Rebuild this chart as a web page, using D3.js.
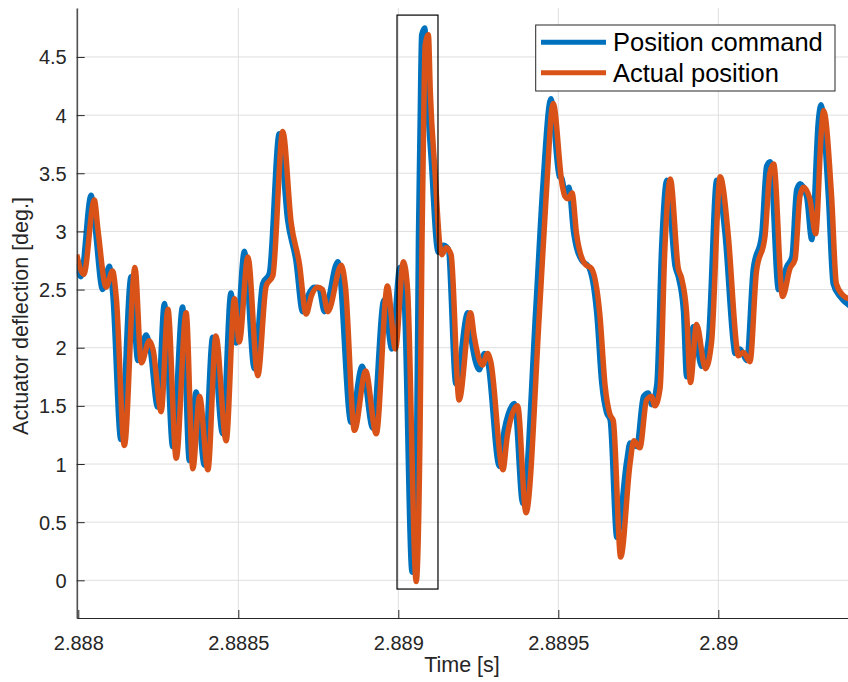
<!DOCTYPE html>
<html>
<head>
<meta charset="utf-8">
<script src="https://cdn.jsdelivr.net/npm/d3@7"></script>
<style>
  body { margin: 0; background: #fff; }
  text { font-family: "Liberation Sans", Arial, sans-serif; }
</style>
</head>
<body>
<script>
const w = 848;
const h = 682;

// time in microseconds after t0, values in degrees
const t0 = 2.888;
const cmdUs = [-5, 8, 40, 52, 76, 97, 108, 133, 165, 186, 212, 224, 248, 269, 295, 326, 347, 368, 394, 420, 451, 477, 493, 519, 550, 576, 597, 628, 654, 680, 701, 718, 737, 752, 769, 811, 852, 887, 920, 955, 980, 1005, 1018, 1043, 1058, 1063, 1068, 1073, 1083, 1089, 1104, 1120, 1125, 1141, 1156, 1180, 1217, 1227, 1253, 1269, 1279, 1316, 1331, 1363, 1389, 1430, 1451, 1477, 1503, 1511, 1521, 1533, 1547, 1573, 1594, 1620, 1636, 1651, 1662, 1683, 1714, 1724, 1745, 1766, 1781, 1792, 1808, 1823, 1839, 1865, 1875, 1891, 1901, 1922, 1948, 1969, 1995, 2021, 2047, 2052, 2068, 2089, 2109, 2136, 2151, 2162, 2188, 2214, 2230, 2245, 2256, 2276, 2292, 2313, 2321, 2344, 2359, 2380, 2410];
const cmdVal = [2.72, 2.61, 3.31, 3.05, 2.50, 2.70, 2.45, 1.21, 2.61, 1.89, 2.11, 2.00, 1.49, 2.38, 1.15, 2.35, 1.03, 1.62, 0.99, 2.09, 1.26, 2.47, 2.04, 2.83, 1.82, 2.55, 2.64, 3.84, 3.10, 2.75, 2.31, 2.45, 2.52, 2.51, 2.31, 2.74, 1.36, 1.84, 1.31, 2.41, 1.99, 2.69, 2.45, 0.07, 1.38, 2.94, 3.88, 4.69, 4.75, 4.25, 3.57, 2.88, 2.82, 2.88, 2.85, 1.69, 2.30, 2.09, 1.81, 1.95, 1.89, 0.98, 1.29, 1.52, 0.66, 2.35, 3.36, 4.14, 3.47, 3.46, 3.33, 3.38, 3.01, 2.75, 2.70, 2.30, 1.69, 1.44, 1.38, 0.37, 1.03, 1.18, 1.15, 1.58, 1.61, 1.51, 1.69, 2.87, 3.44, 2.70, 2.61, 2.32, 1.75, 2.18, 1.84, 2.07, 3.44, 2.98, 2.04, 1.95, 1.99, 1.89, 2.67, 2.98, 3.56, 3.60, 2.50, 2.70, 2.78, 3.36, 3.41, 3.30, 2.93, 3.96, 4.09, 3.30, 2.55, 2.44, 2.36];

const actUs = [-5, 17, 50, 62, 87, 107, 119, 144, 177, 197, 222, 234, 259, 280, 306, 337, 358, 379, 405, 430, 462, 488, 503, 530, 561, 587, 608, 639, 665, 691, 712, 729, 748, 763, 780, 822, 835, 863, 898, 931, 966, 991, 1016, 1029, 1056, 1068, 1074, 1079, 1084, 1094, 1100, 1115, 1131, 1136, 1150, 1165, 1190, 1226, 1237, 1263, 1279, 1289, 1327, 1341, 1373, 1399, 1441, 1462, 1484, 1512, 1521, 1531, 1543, 1557, 1583, 1604, 1630, 1646, 1661, 1672, 1695, 1724, 1736, 1755, 1776, 1791, 1802, 1818, 1833, 1850, 1875, 1885, 1901, 1913, 1932, 1960, 1979, 2006, 2031, 2057, 2062, 2078, 2099, 2119, 2146, 2161, 2173, 2201, 2224, 2240, 2255, 2266, 2286, 2304, 2323, 2329, 2354, 2369, 2390, 2410];
const actVal = [2.80, 2.63, 3.27, 3.00, 2.52, 2.66, 2.42, 1.16, 2.69, 1.87, 2.06, 1.98, 1.45, 2.33, 1.05, 2.30, 0.96, 1.58, 0.95, 2.10, 1.20, 2.42, 2.05, 2.78, 1.76, 2.53, 2.62, 3.86, 3.08, 2.72, 2.29, 2.45, 2.52, 2.50, 2.31, 2.71, 2.52, 1.29, 1.80, 1.26, 2.53, 1.99, 2.74, 2.50, -0.01, 1.30, 2.90, 3.90, 4.60, 4.69, 4.20, 3.50, 2.85, 2.80, 2.86, 2.80, 1.55, 2.30, 2.10, 1.85, 1.95, 1.88, 0.95, 1.25, 1.50, 0.58, 2.30, 3.30, 4.10, 3.40, 3.30, 3.28, 3.33, 2.98, 2.72, 2.68, 2.28, 1.68, 1.43, 1.37, 0.20, 1.00, 1.20, 1.14, 1.55, 1.58, 1.50, 1.65, 2.85, 3.45, 2.68, 2.60, 2.30, 1.70, 2.20, 1.82, 2.05, 3.47, 2.97, 2.02, 1.93, 1.96, 1.88, 2.65, 2.96, 3.50, 3.58, 2.44, 2.68, 2.76, 3.30, 3.38, 3.28, 2.98, 3.90, 4.04, 3.30, 2.55, 2.45, 2.42];

const xTicks = [2.888, 2.8885, 2.889, 2.8895, 2.89];
const yTicks = [0, 0.5, 1, 1.5, 2, 2.5, 3, 3.5, 4, 4.5];
const seriesNames = ["Position command", "Actual position"];
const seriesColors = ["#0072BD", "#D95319"];

// highlighted window around the step
const boxT = [2.888996, 2.889124];
const boxV = [-0.075, 4.86];

const plotLeft = 76.7, plotTop = 8, plotBottom = 618;

const xScale = d3.scaleLinear()
  .domain([2.887995, 2.89041])
  .range([plotLeft, plotLeft + 772.8]);

const yScale = d3.scaleLinear()
  .domain([-0.324, 4.921])
  .range([plotBottom, plotTop]);

const svg = d3.select("body")
  .append("svg")
  .attr("width", w)
  .attr("height", h);

svg.append("defs").append("clipPath")
  .attr("id", "plotClip")
  .append("rect")
  .attr("x", plotLeft)
  .attr("y", plotTop)
  .attr("width", w - plotLeft)
  .attr("height", plotBottom - plotTop);

// GRID
svg.append("g")
  .selectAll("line")
  .data(xTicks)
  .join("line")
  .attr("x1", d => xScale(d))
  .attr("x2", d => xScale(d))
  .attr("y1", plotTop)
  .attr("y2", plotBottom)
  .attr("stroke", "#dfdfdf")
  .attr("stroke-width", 1);

svg.append("g")
  .selectAll("line")
  .data(yTicks)
  .join("line")
  .attr("x1", plotLeft)
  .attr("x2", w)
  .attr("y1", d => yScale(d))
  .attr("y2", d => yScale(d))
  .attr("stroke", "#dfdfdf")
  .attr("stroke-width", 1);

// LINES
const cmdData = cmdUs.map((u, i) => ({ t: t0 + u * 1e-6, v: cmdVal[i] }));
const actData = actUs.map((u, i) => ({ t: t0 + u * 1e-6, v: actVal[i] }));

const line = d3.line()
  .x(d => xScale(d.t))
  .y(d => yScale(d.v))
  .curve(d3.curveMonotoneX);

const plot = svg.append("g").attr("clip-path", "url(#plotClip)");

[cmdData, actData].forEach((data, i) => {
  plot.append("path")
    .datum(data)
    .attr("fill", "none")
    .attr("stroke", seriesColors[i])
    .attr("stroke-width", 5.5)
    .attr("stroke-linejoin", "round")
    .attr("d", line);
});

// BOX
svg.append("rect")
  .attr("x", xScale(boxT[0]))
  .attr("y", yScale(boxV[1]))
  .attr("width", xScale(boxT[1]) - xScale(boxT[0]))
  .attr("height", yScale(boxV[0]) - yScale(boxV[1]))
  .attr("fill", "none")
  .attr("stroke", "#000")
  .attr("stroke-width", 1.2);

// AXES
const xAxis = svg.append("g")
  .attr("transform", `translate(0, ${plotBottom})`)
  .call(d3.axisBottom(xScale)
    .tickValues(xTicks)
    .tickSizeInner(-8)
    .tickSizeOuter(0)
    .tickPadding(18)
    .tickFormat(d3.format("")));

const yAxis = svg.append("g")
  .attr("transform", `translate(${plotLeft}, 0)`)
  .call(d3.axisLeft(yScale)
    .tickValues(yTicks)
    .tickSizeInner(-8)
    .tickSizeOuter(0)
    .tickPadding(10)
    .tickFormat(d3.format("")));

[xAxis, yAxis].forEach(ax => {
  ax.select(".domain").attr("stroke", "#262626").attr("stroke-width", 1.2);
  ax.selectAll(".tick line").attr("stroke", "#262626");
  ax.selectAll(".tick text")
    .attr("fill", "#262626")
    .style("font-family", "'Liberation Sans', Arial, sans-serif")
    .style("font-size", "20px");
});
yAxis.selectAll(".tick text").attr("dy", "0.35em");

// LABELS
svg.append("text")
  .attr("x", 462)
  .attr("y", 672)
  .attr("text-anchor", "middle")
  .attr("fill", "#262626")
  .style("font-size", "21.5px")
  .text("Time [s]");

svg.append("text")
  .attr("transform", "translate(28, 316) rotate(-90)")
  .attr("text-anchor", "middle")
  .attr("fill", "#262626")
  .style("font-size", "21.5px")
  .text("Actuator deflection [deg.]");

// LEGEND
const legend = svg.append("g");
legend.append("rect")
  .attr("x", 535.7)
  .attr("y", 25)
  .attr("width", 299.3)
  .attr("height", 66)
  .attr("fill", "#fff")
  .attr("stroke", "#262626")
  .attr("stroke-width", 1);

seriesNames.forEach((name, i) => {
  const ly = 42.3 + i * 30.4;
  legend.append("line")
    .attr("x1", 541)
    .attr("x2", 606)
    .attr("y1", ly)
    .attr("y2", ly)
    .attr("stroke", seriesColors[i])
    .attr("stroke-width", 5);
  legend.append("text")
    .attr("x", 613)
    .attr("y", ly + 9)
    .attr("fill", "#000")
    .style("font-size", "25.5px")
    .text(name);
});
</script>
</body>
</html>
